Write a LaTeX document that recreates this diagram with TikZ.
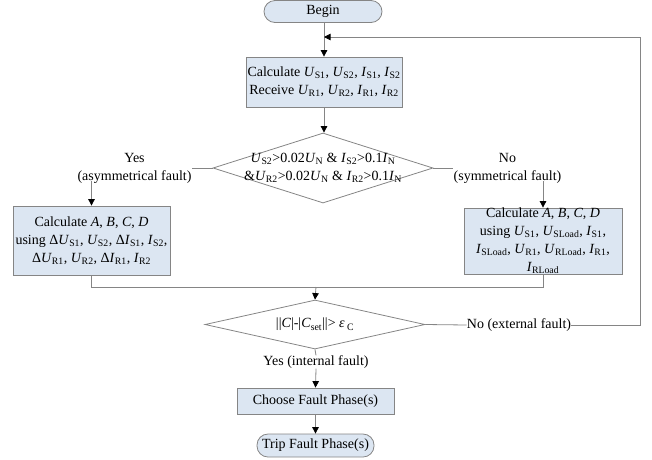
\documentclass[tikz,border=0pt]{standalone}
\usepackage{fontspec}
\setmainfont{Liberation Serif}
\usetikzlibrary{shapes.geometric,arrows.meta}
\definecolor{boxfill}{HTML}{DCE6F2}
\definecolor{linec}{HTML}{858585}
\newcommand\vv[2]{\textit{#1}\textsubscript{#2}}
\begin{document}
\begin{tikzpicture}[x=1pt,y=-1pt,
  font=\fontsize{14}{18}\selectfont,
  every node/.style={inner sep=0pt},
  line/.style={draw=linec, line width=0.8pt},
  arr/.style={line, -{Triangle[length=6.5pt,width=6.5pt,color=black]}},
  proc/.style={draw=linec, line width=0.8pt, fill=boxfill, align=center},
  term/.style={proc, rounded corners=11pt},
  dia/.style={diamond, draw=linec, line width=0.8pt},
  lbl/.style={align=center}]
\useasboundingbox (0,0) rectangle (652,459);

\node[term, minimum width=118pt, minimum height=22pt] (begin) at (323,11.5) {Begin};
\node[proc, minimum width=156pt, minimum height=50pt] (calc) at (324,82)
  {Calculate \vv{U}{S1}, \vv{U}{S2}, \vv{I}{S1}, \vv{I}{S2}\\Receive \vv{U}{R1}, \vv{U}{R2}, \vv{I}{R1}, \vv{I}{R2}};
\node[dia, minimum width=220pt, minimum height=70pt, shape aspect=3.14] (d1) at (323,168) {};
\node[lbl] (d1t) at (d1.center) {\vv{U}{S2}>0.02\vv{U}{N} \& \vv{I}{S2}>0.1\vv{I}{N}\\\&\vv{U}{R2}>0.02\vv{U}{N} \& \vv{I}{R2}>0.1\vv{I}{N}};

\node[lbl] (yes1) at (134.5,168) {Yes\\(asymmetrical fault)};
\node[lbl] (no1) at (507.5,168) {No\\(symmetrical fault)};

\node[proc, minimum width=157pt, minimum height=69pt] (left) at (91.5,240.5)
  {Calculate \textit{A}, \textit{B}, \textit{C}, \textit{D}\\using Δ\vv{U}{S1}, \vv{U}{S2}, Δ\vv{I}{S1}, \vv{I}{S2},\\Δ\vv{U}{R1}, \vv{U}{R2}, Δ\vv{I}{R1}, \vv{I}{R2}};
\node[proc, minimum width=158pt, minimum height=66pt] (right) at (543,241)
  {Calculate \textit{A}, \textit{B}, \textit{C}, \textit{D}\\using \vv{U}{S1}, \vv{U}{SLoad}, \vv{I}{S1},\\\vv{I}{SLoad}, \vv{U}{R1}, \vv{U}{RLoad}, \vv{I}{R1},\\\vv{I}{RLoad}};

\coordinate (merge) at (316,287);
\node[dia, minimum width=220pt, minimum height=49pt, shape aspect=4.5] (d2) at (315,324.5) {};
\node (d2t) at (d2.center) {||\textit{C}|-|\vv{C}{set}||> \textit{ε}\,\textsubscript{C}};
\node (no2) at (519,325) {No (external fault)};
\node (yes2) at (316,362) {Yes (internal fault)};
\coordinate (loopc) at (640,325);
\coordinate (loopt) at (640,37);
\coordinate (entry) at (324,37);

\node[proc, minimum width=157pt, minimum height=26pt] (choose) at (315.5,401) {Choose Fault Phase(s)};
\node[term, minimum width=117pt, minimum height=23pt] (trip) at (315.5,445.5) {Trip Fault Phase(s)};

\draw[arr] (begin.south -| calc.north) -- (calc.north);
\draw[arr] (calc.south) -- (d1.north -| calc.south);
\draw[line] (d1.west) -- (yes1.east |- d1.west);
\draw[line] (d1.east) -- (no1.west |- d1.east);
\draw[arr] ([yshift=2pt]yes1.south -| left.north) -- (left.north);
\draw[arr] ([yshift=2pt]no1.south -| right.north) -- (right.north);
\draw[line] (left.south) |- (merge) -| (right.south);
\draw[arr] (merge) -- (d2.north);
\draw[line] (d2.east) -- (no2.west);
\draw[line] (no2.east) -- (loopc) -- (loopt);
\draw[arr] (loopt) -- (entry);
\draw[line] (d2.south) -- (yes2.north);
\draw[arr] (yes2.south) -- (choose.north);
\draw[arr] (choose.south) -- (trip.north);
\end{tikzpicture}
\end{document}
